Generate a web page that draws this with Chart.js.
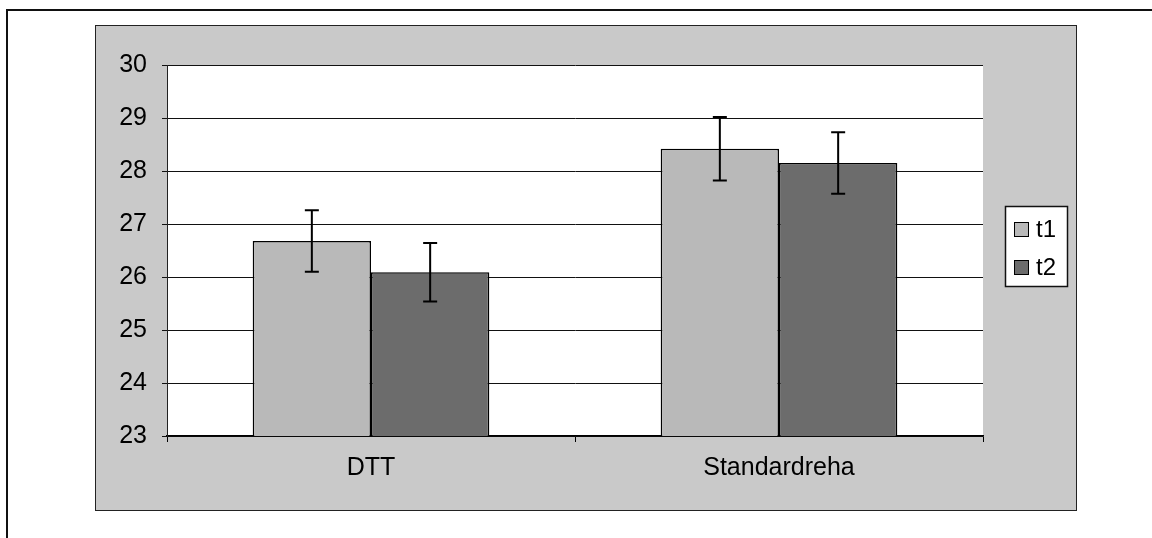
<!DOCTYPE html>
<html>
<head>
<meta charset="utf-8">
<script src="https://cdn.jsdelivr.net/npm/chart.js@4"></script>
<style>
  html, body { margin: 0; padding: 0; background: #fff; }
  #wrap { width: 1152px; height: 538px; }
</style>
</head>
<body>
<div id="wrap"><canvas id="grafico" width="1152" height="538"></canvas></div>
<script>
const categories = ['DTT', 'Standardreha'];
const seriesNames = ['t1', 't2'];
const valuesT1 = [26.68, 28.42];
const valuesT2 = [26.09, 28.15];
const errorsT1 = [0.58, 0.60];
const errorsT2 = [0.55, 0.58];
const yTicks = [23, 24, 25, 26, 27, 28, 29, 30];

const FONT = '"Liberation Sans", Arial, sans-serif';

// fundo: moldura, área cinzenta e área do gráfico branca
const fundoPlugin = {
    id: 'fundo',
    beforeDraw(chart) {
        const ctx = chart.ctx;
        const a = chart.chartArea;
        ctx.save();
        ctx.fillStyle = '#fff';
        ctx.fillRect(0, 0, chart.width, chart.height);

        ctx.strokeStyle = '#111';
        ctx.lineWidth = 2;
        ctx.beginPath();
        ctx.moveTo(7, 538);
        ctx.lineTo(7, 10);
        ctx.lineTo(1152, 10);
        ctx.stroke();

        ctx.fillStyle = '#c9c9c9';
        ctx.fillRect(95, 25, 981, 485);
        ctx.lineWidth = 1;
        ctx.strokeStyle = '#222';
        ctx.strokeRect(95.5, 25.5, 981, 485);

        ctx.fillStyle = '#fff';
        ctx.fillRect(a.left, a.top, a.right - a.left, a.bottom - a.top);
        ctx.restore();
    }
};

// barras de erro desenhadas sobre cada barra
const errosPlugin = {
    id: 'erros',
    afterDatasetsDraw(chart) {
        const ctx = chart.ctx;
        const y = chart.scales.y;
        const erros = [errorsT1, errorsT2];
        ctx.save();
        ctx.strokeStyle = '#000';
        ctx.lineWidth = 2;
        chart.data.datasets.forEach((ds, i) => {
            chart.getDatasetMeta(i).data.forEach((bar, j) => {
                const v = ds.data[j];
                const e = erros[i][j];
                const yTop = y.getPixelForValue(v + e);
                const yBot = y.getPixelForValue(v - e);
                ctx.beginPath();
                ctx.moveTo(bar.x, yTop);
                ctx.lineTo(bar.x, yBot);
                ctx.moveTo(bar.x - 7, yTop);
                ctx.lineTo(bar.x + 7, yTop);
                ctx.moveTo(bar.x - 7, yBot);
                ctx.lineTo(bar.x + 7, yBot);
                ctx.stroke();
            });
        });
        ctx.restore();
    }
};

// legenda em caixa branca à direita
const legendaPlugin = {
    id: 'legenda',
    afterDraw(chart) {
        const ctx = chart.ctx;
        ctx.save();
        ctx.fillStyle = '#fff';
        ctx.fillRect(1005, 206, 62, 80);
        ctx.strokeStyle = '#111';
        ctx.lineWidth = 1.5;
        ctx.strokeRect(1005.5, 206.5, 62, 80);
        ctx.font = '24px ' + FONT;
        ctx.textBaseline = 'middle';
        chart.data.datasets.forEach((ds, i) => {
            const cy = 229 + i * 38;
            ctx.fillStyle = ds.backgroundColor;
            ctx.fillRect(1014, cy - 7, 14, 14);
            ctx.strokeStyle = '#000';
            ctx.lineWidth = 1;
            ctx.strokeRect(1014.5, cy - 6.5, 14, 14);
            ctx.fillStyle = '#000';
            ctx.fillText(ds.label, 1036, cy + 1);
        });
        ctx.restore();
    }
};

const ctx = document.getElementById('grafico').getContext('2d');
const grafico = new Chart(ctx, {
    type: 'bar',
    data: {
        labels: categories,
        datasets: [{
            label: seriesNames[0],
            data: valuesT1,
            backgroundColor: '#b9b9b9',
            borderColor: '#000',
            borderWidth: 1.5,
            borderSkipped: false
        }, {
            label: seriesNames[1],
            data: valuesT2,
            backgroundColor: '#6c6c6c',
            borderColor: '#000',
            borderWidth: 1.5,
            borderSkipped: false
        }]
    },
    options: {
        responsive: false,
        animation: false,
        devicePixelRatio: 1,
        layout: {
            padding: { left: 0, top: 65, right: 169, bottom: 62 }
        },
        datasets: {
            bar: {
                barPercentage: 1,
                categoryPercentage: 0.58
            }
        },
        plugins: {
            legend: { display: false },
            tooltip: { enabled: false }
        },
        scales: {
            x: {
                grid: {
                    drawOnChartArea: false,
                    drawTicks: true,
                    tickLength: 6,
                    color: '#000'
                },
                border: { color: '#000', width: 1.5 },
                ticks: {
                    color: '#000',
                    padding: 11,
                    font: { family: FONT, size: 25 }
                },
                afterFit(scale) { scale.height = 40; }
            },
            y: {
                min: yTicks[0],
                max: yTicks[yTicks.length - 1],
                afterBuildTicks(scale) {
                    scale.ticks = yTicks.map(v => ({ value: v }));
                },
                grid: {
                    color: '#111',
                    lineWidth: 1,
                    tickLength: 5
                },
                border: { color: '#222', width: 1 },
                ticks: {
                    color: '#000',
                    padding: 15,
                    font: { family: FONT, size: 25 }
                },
                afterFit(scale) { scale.width = 167; }
            }
        }
    },
    plugins: [fundoPlugin, errosPlugin, legendaPlugin]
});
</script>
</body>
</html>
